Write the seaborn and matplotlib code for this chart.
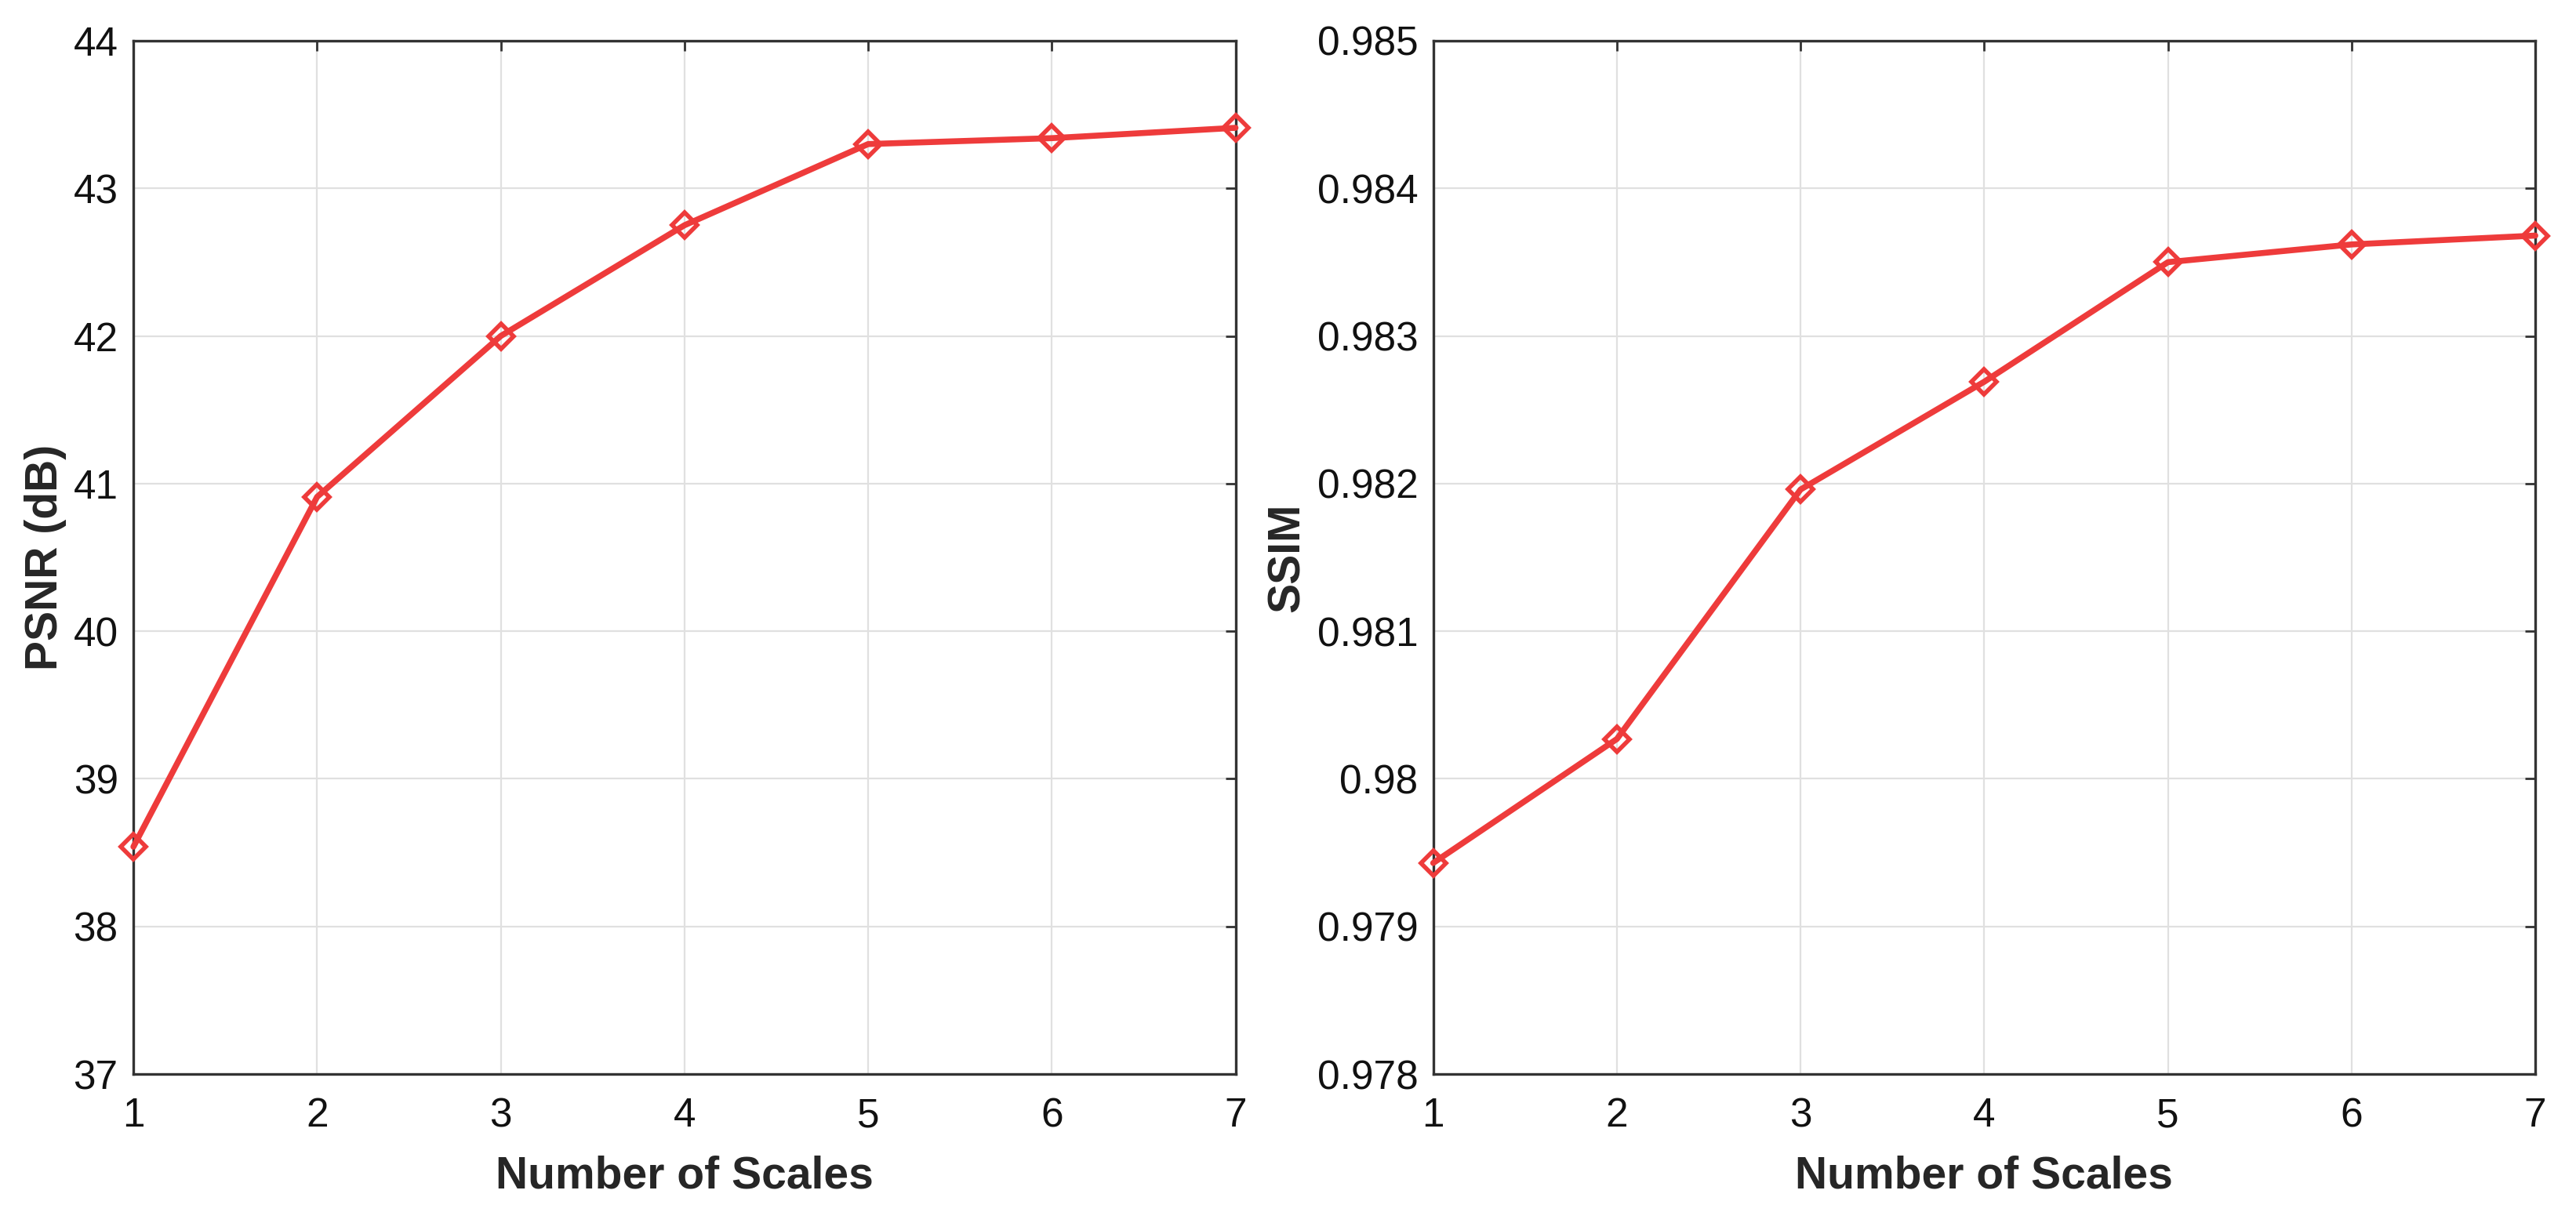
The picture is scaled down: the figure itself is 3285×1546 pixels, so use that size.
import matplotlib
matplotlib.use("Agg")
import matplotlib.pyplot as plt
import seaborn as sns
import pandas as pd

# values
scales = [1, 2, 3, 4, 5, 6, 7]
psnr = [38.54, 40.91, 42.0, 42.75, 43.30, 43.34, 43.41]
ssim = [0.97943, 0.98027, 0.98196, 0.98269, 0.98350, 0.98362, 0.98368]

psnr_ticks = [37, 38, 39, 40, 41, 42, 43, 44]
psnr_labels = ["37", "38", "39", "40", "41", "42", "43", "44"]
ssim_ticks = [0.978, 0.979, 0.980, 0.981, 0.982, 0.983, 0.984, 0.985]
ssim_labels = ["0.978", "0.979", "0.98", "0.981", "0.982", "0.983", "0.984", "0.985"]

df = pd.DataFrame({"scales": scales, "psnr": psnr, "ssim": ssim})

sns.set_style("whitegrid")
plt.rcParams["font.family"] = ["Liberation Sans", "DejaVu Sans"]

red = "#EE3B3B"

fig, axes = plt.subplots(1, 2, figsize=(32.85, 15.46), dpi=100)
fig.subplots_adjust(left=0.0518, right=0.9842, top=0.9664, bottom=0.1138, wspace=0.1794)

panels = [
    ("psnr", "PSNR (dB)", psnr_ticks, psnr_labels, -0.080),
    ("ssim", "SSIM", ssim_ticks, ssim_labels, -0.132),
]

for ax, (col, ylab, ticks, labels, ylab_x) in zip(axes, panels):
    sns.lineplot(data=df, x="scales", y=col, ax=ax, color=red, linewidth=5.5,
                 marker="D", markersize=16, markerfacecolor="none",
                 markeredgecolor=red, markeredgewidth=4, clip_on=False, zorder=5)
    ax.set_xlim(1, 7)
    ax.set_ylim(ticks[0], ticks[-1])
    ax.set_xticks(scales)
    ax.set_yticks(ticks)
    ax.set_yticklabels(labels)
    ax.set_xlabel("Number of Scales", fontsize=41, fontweight="bold", labelpad=18)
    ax.set_ylabel(ylab, fontsize=41, fontweight="bold")
    ax.yaxis.set_label_coords(ylab_x, 0.5)
    ax.yaxis.label.set_verticalalignment("center")
    ax.grid(True, color="#e0e0e0", linewidth=1.6)
    ax.tick_params(axis="both", which="major", direction="in", length=9.5, width=2,
                   color="#333333", labelsize=37, labelcolor="#111111",
                   top=True, right=True)
    ax.tick_params(axis="x", pad=21)
    ax.tick_params(axis="y", pad=14)
    for s in ax.spines.values():
        s.set_visible(True)
        s.set_color("#333333")
        s.set_linewidth(2.4)

fig.savefig("out.png", dpi=100, facecolor="white")
